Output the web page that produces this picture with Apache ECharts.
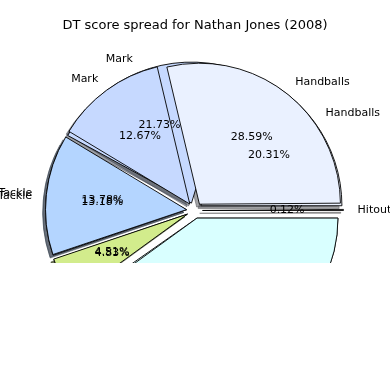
<!DOCTYPE html>
<html>
<head>
<meta charset="utf-8">
<script src="https://cdn.jsdelivr.net/npm/echarts@6/dist/echarts.min.js"></script>
<style>
  html, body { margin: 0; padding: 0; background: #fff; }
  #chart { width: 390px; height: 263px; }
</style>
</head>
<body>
<div id="chart"></div>
<script>
// ---- data ----
const titleText = 'DT score spread for Nathan Jones (2008)';
const categories = ['Hitout', 'Handballs', 'Mark', 'Tackle', 'Frees', 'Kicks'];
const pctA = [0.12, 28.59, 12.67, 13.78, 4.83, 40.01];
const pctB = [null, 20.31, 21.73, 13.18, 4.51, 40.27];   // no hitouts in this spread

// ---- style ----
const sliceColors = ['#f4f4f4', '#eaf1ff', '#c6d9ff', '#b4d5ff', '#d2ec8c', '#d9ffff'];
const FONT = 'DejaVu Sans';
const CX = 194.5, CY = 210.5, R = 141, EXPLODE = 8, SH = 2.8;
const E = EXPLODE / R;               // explode in radius units
const NAME_DIST = 1.1 + E, PCT_DIST = 0.6 + E;

function shadowColor(hex) {
  const n = parseInt(hex.slice(1), 16);
  const r = Math.round(((n >> 16) & 255) * 0.3);
  const g = Math.round(((n >> 8) & 255) * 0.3);
  const b = Math.round((n & 255) * 0.3);
  return 'rgba(' + r + ',' + g + ',' + b + ',0.5)';
}

// items that exist in a spread (null = category absent)
function items(values) {
  const out = [];
  values.forEach((v, i) => { if (v !== null) out.push({ idx: i, value: v }); });
  return out;
}

function baseSeries(values, extra) {
  return Object.assign({
    type: 'pie',
    startAngle: 0,
    clockwise: false,
    center: [CX, CY],
    radius: [0, R],
    selectedMode: 'multiple',
    selectedOffset: EXPLODE,
    avoidLabelOverlap: false,
    silent: true,
    emphasis: { disabled: true },
    labelLine: { show: false },
    label: { show: false },
    data: items(values).map(it => ({ name: categories[it.idx], value: it.value, selected: true, _idx: it.idx }))
  }, extra);
}

function shadowSeries(values) {
  const s = baseSeries(values, { center: [CX - SH, CY + SH], z: 1 });
  s.data.forEach(d => {
    const c = shadowColor(sliceColors[d._idx]);
    d.itemStyle = { color: c, borderColor: c, borderWidth: 0.9 };
    d.select = { itemStyle: { color: c, borderColor: c, borderWidth: 0.9 } };
  });
  return s;
}

function wedgeSeries(values, z) {
  const s = baseSeries(values, { z: z });
  s.data.forEach(d => {
    const st = { color: sliceColors[d._idx], borderColor: '#000', borderWidth: 0.9 };
    d.itemStyle = st;
    d.select = { itemStyle: st };
  });
  return s;
}

// mid-angle of each present slice, in the same 0..100 units as the polar angle axis
function midPoints(values) {
  const its = items(values);
  const total = its.reduce((a, b) => a + b.value, 0);
  let acc = 0;
  return its.map(it => {
    const mid = (acc + it.value / 2) / total * 100;
    acc += it.value;
    return { idx: it.idx, value: it.value, mid: mid };
  });
}

const labelFont = { color: '#000', opacity: 1, fontFamily: FONT, fontSize: 11, textBorderWidth: 0 };

function labelSeriesBase(data) {
  return {
    type: 'scatter', coordinateSystem: 'polar', silent: true, z: 10,
    symbolSize: 0, itemStyle: { color: '#000', opacity: 1 },
    emphasis: { disabled: true },
    data: data
  };
}

function nameLabels(values) {
  return labelSeriesBase(midPoints(values).map(p => {
    const ang = p.mid / 100 * 2 * Math.PI;
    const right = Math.cos(ang) >= 0;
    return {
      name: categories[p.idx], value: [NAME_DIST, p.mid],
      label: Object.assign({ show: true, position: right ? 'right' : 'left', distance: 0,
        formatter: categories[p.idx] }, labelFont)
    };
  }));
}

function pctLabels(values) {
  return labelSeriesBase(midPoints(values).map(p => ({
    name: categories[p.idx], value: [PCT_DIST, p.mid],
    label: Object.assign({ show: true, position: 'inside', formatter: p.value.toFixed(2) + '%' }, labelFont)
  })));
}

const chart = echarts.init(document.getElementById('chart'), null, { renderer: 'canvas' });
chart.setOption({
  animation: false,
  backgroundColor: '#fff',
  title: {
    text: titleText, left: 'center', top: 19, padding: 0,
    textStyle: { fontFamily: FONT, fontSize: 13, fontWeight: 'normal', color: '#000' }
  },
  polar: { center: [CX, CY], radius: 2 * R },
  angleAxis: { type: 'value', min: 0, max: 100, startAngle: 0, clockwise: false, show: false,
    axisLine: { show: false }, splitLine: { show: false }, axisLabel: { show: false }, axisTick: { show: false } },
  radiusAxis: { type: 'value', min: 0, max: 2, show: false,
    axisLine: { show: false }, splitLine: { show: false }, axisLabel: { show: false }, axisTick: { show: false } },
  series: [
    shadowSeries(pctB),
    shadowSeries(pctA),
    wedgeSeries(pctB, 2),
    wedgeSeries(pctA, 3),
    nameLabels(pctB),
    nameLabels(pctA),
    pctLabels(pctB),
    pctLabels(pctA)
  ]
});
</script>
</body>
</html>
